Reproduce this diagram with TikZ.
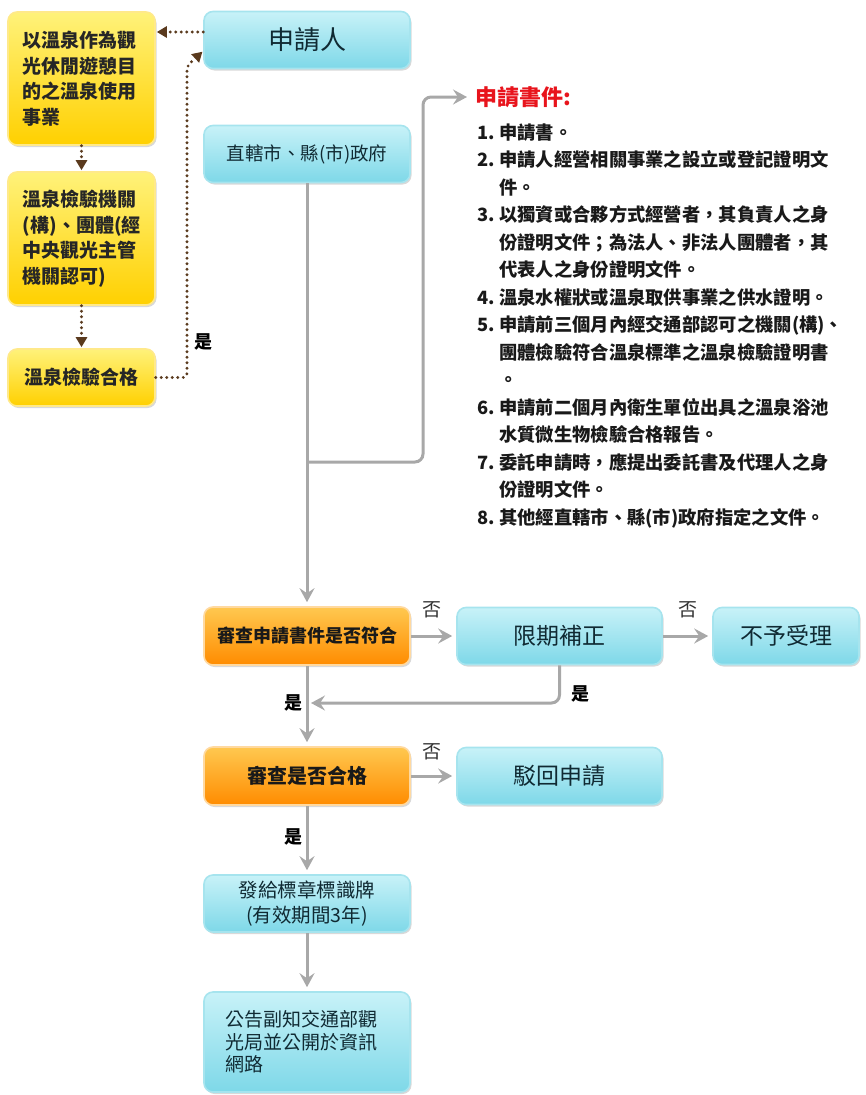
\documentclass[tikz,border=0pt]{standalone}
\usepackage{fontspec}
\setmainfont{Noto Sans CJK TC}
\usetikzlibrary{arrows.meta,shadows,calc}
\definecolor{cyT}{HTML}{C8F2F8}
\definecolor{cyB}{HTML}{7ED8E8}
\definecolor{cyD}{HTML}{A6E4EE}
\definecolor{yeT}{HTML}{FFF27A}
\definecolor{yeB}{HTML}{FFD000}
\definecolor{yeD}{HTML}{FFE98A}
\definecolor{orT}{HTML}{FFC850}
\definecolor{orB}{HTML}{FF8C00}
\definecolor{orD}{HTML}{FFD9A0}
\definecolor{brn}{HTML}{5A3A1E}
\definecolor{gry}{HTML}{A8A8A8}
\definecolor{txt}{HTML}{102A33}
\definecolor{redt}{HTML}{E8141C}
\tikzset{
 box/.style={rounded corners=9pt, line width=1.6pt, inner sep=0pt,
   drop shadow={shadow xshift=1.5pt, shadow yshift=-2pt, opacity=0.3, fill=black!50}},
 cybox/.style={box, draw=cyD, top color=cyT, bottom color=cyB, text=txt, minimum width=206pt, minimum height=57pt},
 yebox/.style={box, draw=yeD, top color=yeT, bottom color=yeB, text=black!85, minimum width=147pt,
   font=\bfseries\fontsize{19}{25.5}\selectfont},
 orbox/.style={box, draw=orD, top color=orT, bottom color=orB, text=black!90, minimum width=206pt, minimum height=58pt},
 garrow/.style={draw=gry, line width=3pt, -{Stealth[length=14pt,width=15pt,inset=5pt]}, shorten >=4pt},
 dotarrow/.style={draw=brn, line width=3.2pt, dash pattern=on 0pt off 5.5pt, line cap=round,
   -{Triangle[length=10pt,width=11pt]}, shorten >=1pt},
 yeslbl/.style={font=\bfseries\fontsize{18}{18}\selectfont, text=black, inner sep=0pt},
 nolbl/.style={font=\fontsize{19}{19}\selectfont, text=black!80, inner sep=0pt},
}
\begin{document}
\begin{tikzpicture}[x=1pt,y=-1pt]
\useasboundingbox (0,0) rectangle (865,1095);

% left yellow column
\node[yebox, minimum height=133pt, text width=117pt, inner xsep=15pt, align=left] (y1) at (81.5,78.5)
  {以溫泉作為觀\\光休閒遊憩目\\的之溫泉使用\\事業};
\node[yebox, minimum height=133pt, text width=117pt, inner xsep=15pt, align=left] (y2) at (81.5,238.5)
  {溫泉檢驗機關\\(構)、團體(經\\中央觀光主管\\機關認可)};
\node[yebox, minimum height=57pt] (y3) at (81.5,377.5) {溫泉檢驗合格};

% main column
\node[cybox, font=\fontsize{26}{26}\selectfont] (applicant) at (307,40) {申請人};
\node[cybox, font=\fontsize{18.5}{18.5}\selectfont] (gov) at (307,154) {直轄市、縣(市)政府};

% document list
\node[anchor=west, inner sep=0pt, text=redt, font=\bfseries\fontsize{22}{22}\selectfont] (docs) at (475,97) {申請書件:};
\node[anchor=north west, inner sep=0pt, font=\bfseries\fontsize{18.3}{27.5}\selectfont, text=black!90] (list) at (477,120) {%
\begin{tabular}{@{}p{22pt}@{}l@{}}
1. & 申請書。\\
2. & 申請人經營相關事業之設立或登記證明文\\
   & 件。\\
3. & 以獨資或合夥方式經營者，其負責人之身\\
   & 份證明文件；為法人、非法人團體者，其\\
   & 代表人之身份證明文件。\\
4. & 溫泉水權狀或溫泉取供事業之供水證明。\\
5. & 申請前三個月內經交通部認可之機關(構)、\\
   & 團體檢驗符合溫泉標準之溫泉檢驗證明書\\
   & 。\\
6. & 申請前二個月內衛生單位出具之溫泉浴池\\
   & 水質微生物檢驗合格報告。\\
7. & 委託申請時，應提出委託書及代理人之身\\
   & 份證明文件。\\
8. & 其他經直轄市、縣(市)政府指定之文件。
\end{tabular}};

% review steps
\node[orbox, font=\bfseries\fontsize{18}{18}\selectfont] (rev1) at (307,636) {審查申請書件是否符合};
\node[cybox, minimum width=205pt, font=\fontsize{23}{23}\selectfont] (fix) at (559.5,636) {限期補正};
\node[cybox, minimum width=146pt, font=\fontsize{23}{23}\selectfont] (reject) at (786,636) {不予受理};
\node[orbox, font=\bfseries\fontsize{20}{20}\selectfont] (rev2) at (307,776) {審查是否合格};
\node[cybox, minimum width=205pt, font=\fontsize{23}{23}\selectfont] (deny) at (559.5,776) {駁回申請};
\node[cybox, align=center, font=\fontsize{19.5}{25}\selectfont] (issue) at (307,903.5) {發給標章標識牌\\(有效期間3年)};
\node[cybox, minimum height=100pt, text width=164pt, inner xsep=21pt, align=left, font=\fontsize{19}{22.5}\selectfont] (announce) at (307,1042)
  {公告副知交通部觀\\光局並公開於資訊\\網路};

% dotted connectors
\coordinate (a1) at ([yshift=8pt]applicant.west);
\coordinate (a2) at ([yshift=-11pt]applicant.west);
\coordinate (dotx) at (187,66);
\draw[dotarrow] (a1) -- (a1 -| y1.east);
\draw[dotarrow] (y1.south) -- (y2.north);
\draw[dotarrow] (y2.south) -- (y3.north);
\draw[dotarrow, rounded corners=4pt] (y3.east) -| (dotx) -- (a2);
\node[yeslbl] (l1) at (203,342) {是};

% gray connectors
\coordinate (branch) at (gov.south |- 0,462);
\coordinate (bend) at (423,462);
\coordinate (merge) at (rev1.south |- 0,703);
\draw[garrow] (gov.south) -- (rev1.north);
\draw[garrow, rounded corners=8pt, shorten >=0pt] (branch) -- (bend) |- ([xshift=-8pt]docs.west);
\draw[garrow] (rev1.east) -- (fix.west);
\draw[garrow] (fix.east) -- (reject.west);
\draw[garrow, rounded corners=8pt, shorten >=1pt] (fix.south) |- ([xshift=3pt]merge);
\draw[garrow] (rev1.south) -- (rev2.north);
\draw[garrow] (rev2.east) -- (deny.west);
\draw[garrow] (rev2.south) -- (issue.north);
\draw[garrow] (issue.south) -- (announce.north);

% labels
\node[nolbl] (n1) at (432,610) {否};
\node[nolbl] (n2) at (688,610) {否};
\node[nolbl] (n3) at (432,752) {否};
\node[yeslbl] (l2) at (580,694) {是};
\node[yeslbl] (l3) at (293,703) {是};
\node[yeslbl] (l4) at (293,837) {是};
\end{tikzpicture}
\end{document}
